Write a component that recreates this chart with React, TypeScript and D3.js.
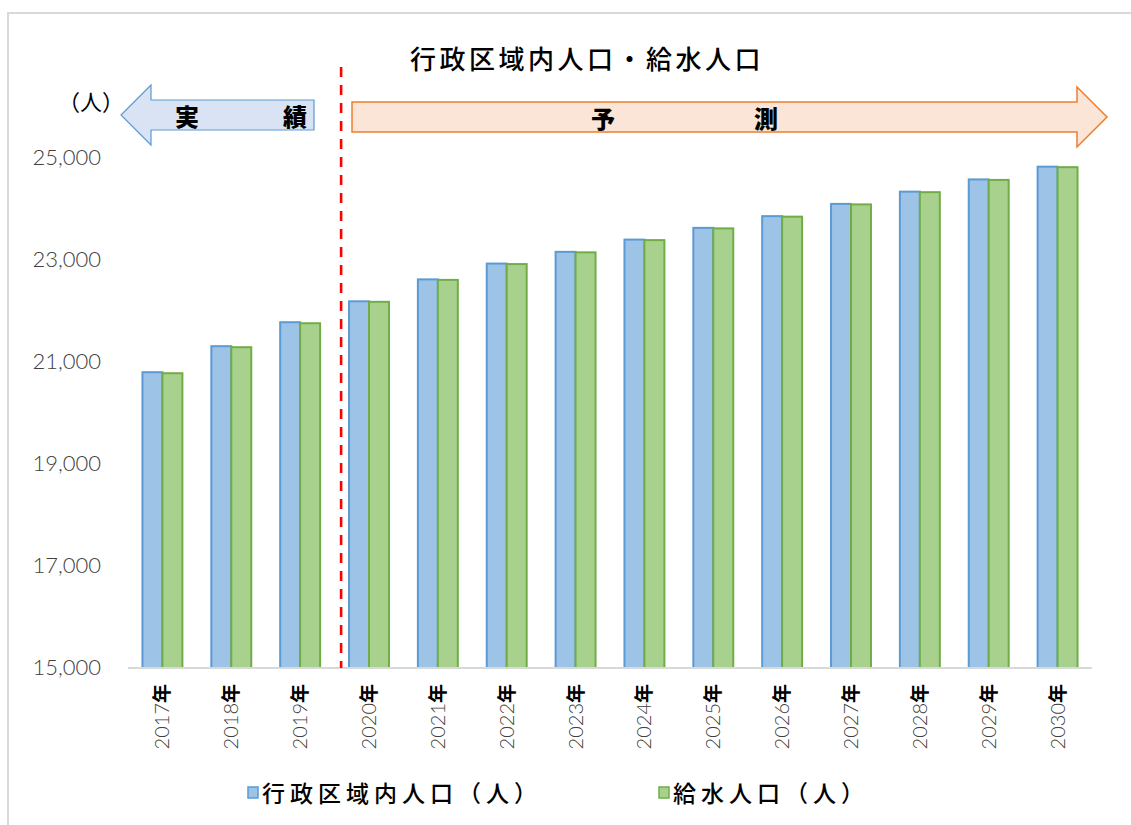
import React from "react";
import * as d3 from "d3";

// 年度
const years = [
  "2017", "2018", "2019", "2020", "2021", "2022", "2023",
  "2024", "2025", "2026", "2027", "2028", "2029", "2030",
];
// 行政区域内人口（人）
const adminPopulation = [
  20800, 21310, 21780, 22190, 22620, 22930, 23160,
  23400, 23630, 23860, 24100, 24340, 24580, 24830,
];
// 給水人口（人）
const servedPopulation = [
  20780, 21290, 21760, 22180, 22610, 22920, 23150,
  23390, 23620, 23850, 24090, 24330, 24570, 24820,
];
const yTicks = [15000, 17000, 19000, 21000, 23000, 25000];
const seriesNames = ["行政区域内人口（人）", "給水人口（人）"];

const W = 1131;
const H = 825;
const plot = { left: 128, right: 1092, top: 158, bottom: 668 };

const fills = ["#9dc3e6", "#a9d18e"];
const strokes = ["#5b9bd5", "#70ad47"];
const DIGIT_FONT = "Lato, 'Open Sans', sans-serif";
const CJK_FONT = "'Noto Sans CJK JP', sans-serif";

export default function App() {
  const y = d3.scaleLinear().domain([15000, 25000]).range([plot.bottom, plot.top]);
  const x0 = d3.scaleBand<string>().domain(years).range([plot.left, plot.right]);
  const groupW = x0.bandwidth() * 0.58;
  const x1 = d3.scaleBand<number>().domain([0, 1]).range([0, groupW]);
  const fmt = d3.format(",");
  const series = [adminPopulation, servedPopulation];

  // 実績 / 予測 の境界線
  const boundary = x0("2020")! + x0.bandwidth() * 0.095;

  const leftArrow = [
    [121, 115], [151, 85], [151, 100], [314, 100], [314, 130], [151, 130], [151, 145],
  ];
  const rightArrow = [
    [352, 102], [1077, 102], [1077, 87], [1107, 117], [1077, 147], [1077, 132], [352, 132],
  ];
  const pts = (p: number[][]) => p.map((d) => d.join(",")).join(" ");

  return (
    <svg
      width={W}
      height={H}
      style={{ position: "absolute", left: 0, top: 0, background: "#fff" }}
    >
      <rect x={8} y={13} width={1300} height={1000} fill="#fff" stroke="#d9d9d9" strokeWidth={2} />

      {/* タイトル */}
      <text
        x={587}
        y={69}
        textAnchor="middle"
        fontFamily={CJK_FONT}
        fontWeight={500}
        fontSize={26}
        letterSpacing={3.5}
        fill="#000"
      >
        行政区域内人口・給水人口
      </text>

      {/* 単位 */}
      <text x={91} y={110} textAnchor="middle" fontFamily={CJK_FONT} fontSize={22} fill="#000">
        （人）
      </text>

      {/* 実績 矢印 */}
      <polygon points={pts(leftArrow)} fill="#dae3f3" stroke="#5b9bd5" strokeWidth={1.2} />
      <text x={187} y={126} textAnchor="middle" fontFamily={CJK_FONT} fontWeight={900} fontSize={24} fill="#000">実</text>
      <text x={295} y={126} textAnchor="middle" fontFamily={CJK_FONT} fontWeight={900} fontSize={24} fill="#000">績</text>

      {/* 予測 矢印 */}
      <polygon points={pts(rightArrow)} fill="#fbe5d6" stroke="#ed7d31" strokeWidth={1.5} />
      <text x={603} y={128} textAnchor="middle" fontFamily={CJK_FONT} fontWeight={900} fontSize={24} fill="#000">予</text>
      <text x={766} y={128} textAnchor="middle" fontFamily={CJK_FONT} fontWeight={900} fontSize={24} fill="#000">測</text>

      {/* Y軸目盛 */}
      {yTicks.map((t) => (
        <text
          key={t}
          x={101}
          y={y(t) + 7}
          textAnchor="end"
          fontFamily={DIGIT_FONT}
          fontWeight={300}
          fontSize={22}
          fill="#404040"
        >
          {fmt(t)}
        </text>
      ))}

      {/* 棒 */}
      {years.map((yr, i) => {
        const gx = x0(yr)! + (x0.bandwidth() - groupW) / 2;
        return (
          <g key={yr}>
            {series.map((s, k) => (
              <rect
                key={k}
                x={gx + x1(k)!}
                y={y(s[i])}
                width={x1.bandwidth()}
                height={plot.bottom - y(s[i])}
                fill={fills[k]}
                stroke={strokes[k]}
                strokeWidth={2}
              />
            ))}
          </g>
        );
      })}

      {/* X軸 */}
      <line x1={plot.left} x2={plot.right} y1={plot.bottom} y2={plot.bottom} stroke="#d9d9d9" strokeWidth={2} />

      {/* 境界線 */}
      <line
        x1={boundary}
        x2={boundary}
        y1={67}
        y2={plot.bottom}
        stroke="#ff0000"
        strokeWidth={2.6}
        strokeDasharray="10 8"
      />

      {/* X軸ラベル */}
      {years.map((yr) => {
        const cx = x0(yr)! + x0.bandwidth() / 2;
        return (
          <text
            key={yr}
            transform={`translate(${cx + 7},${684}) rotate(-90)`}
            textAnchor="end"
            fontFamily={DIGIT_FONT}
            fontWeight={300}
            fontSize={20}
            fill="#404040"
          >
            {yr}
            <tspan fontFamily={CJK_FONT} fontWeight={700} fontSize={19} fill="#000">年</tspan>
          </text>
        );
      })}

      {/* 凡例 */}
      {[248, 659].map((lx, k) => (
        <g key={k}>
          <rect x={lx} y={787} width={10} height={11} fill={fills[k]} stroke={strokes[k]} strokeWidth={1.5} />
          <text
            x={lx + 14}
            y={802}
            fontFamily={CJK_FONT}
            fontWeight={500}
            fontSize={23}
            letterSpacing={5}
            fill="#000"
          >
            {seriesNames[k]}
          </text>
        </g>
      ))}
    </svg>
  );
}
